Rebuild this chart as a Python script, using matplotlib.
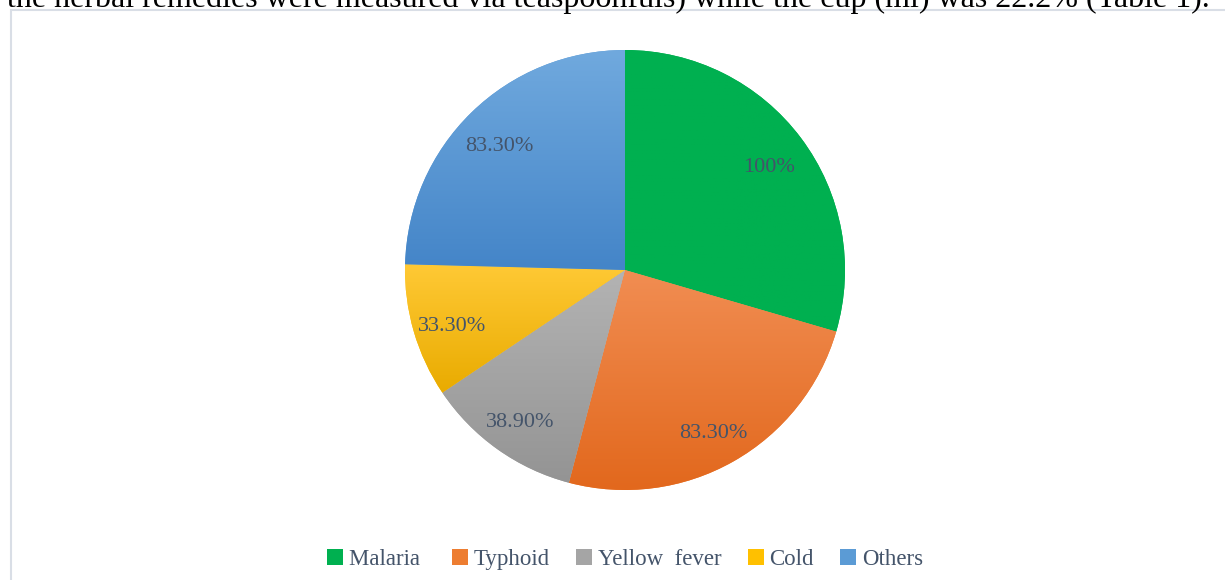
import numpy as np
import matplotlib.pyplot as plt
from matplotlib.patches import Rectangle
from matplotlib.colors import LinearSegmentedColormap
from matplotlib.transforms import ScaledTranslation

# data
categorias = ['Malaria ', 'Typhoid', 'Yellow  fever', 'Cold', 'Others']
valores = [100, 83.3, 38.9, 33.3, 83.3]
etiquetas = ['100%', '83.30%', '38.90%', '33.30%', '83.30%']
colores = ['#00b050', '#ed7d31', '#a5a5a5', '#ffc000', '#5b9bd5']
# degradado (arriba, abajo)
claros = ['#00b050', '#f18d52', '#b3b3b3', '#ffc935', '#70a9de']
oscuros = ['#00b050', '#e2681d', '#949494', '#e9ab00', '#4485c8']

plt.rcParams['font.family'] = ['Liberation Serif', 'DejaVu Serif']

fig = plt.figure(figsize=(12.25, 5.8), dpi=100)

# texto cortado de la página
fig.text(0.006, 0.988, 'the herbal remedies were measured via teaspoonfuls) while the cup (ml) was 22.2% (Table 1).',
         fontsize=23, color='black', va='baseline', ha='left')

# marco del gráfico
fig.patches.append(Rectangle((11 / 1225, -0.1), 1.2, 0.1 + (580 - 10) / 580,
                             transform=fig.transFigure, fill=False,
                             edgecolor='#d9dee6', lw=1.5))

ax = fig.add_axes([(625 - 220) / 1225, (580 - 490) / 580, 440 / 1225, 440 / 580])
cunas, textos = ax.pie(valores, colors=colores, startangle=90, counterclock=False,
                       labels=etiquetas, labeldistance=0.82,
                       wedgeprops=dict(linewidth=0),
                       textprops=dict(color='#44546a', fontsize=16, ha='center', va='center', zorder=5))
# las etiquetas van un poco más abajo en el original
bajar = ScaledTranslation(0, -6 / 100, fig.dpi_scale_trans)
for t in textos:
    t.set_horizontalalignment('center')
    t.set_transform(t.get_transform() + bajar)

# degradado vertical dentro de cada porción
for cuna, c1, c2 in zip(cunas, claros, oscuros):
    ext = cuna.get_path().get_extents(cuna.get_patch_transform())
    cmap = LinearSegmentedColormap.from_list('g', [c1, c2])
    grad = np.linspace(0, 1, 100).reshape(-1, 1)
    im = ax.imshow(grad, cmap=cmap, aspect='auto', origin='upper',
                   extent=[ext.x0, ext.x1, ext.y0, ext.y1], zorder=2)
    im.set_clip_path(cuna)

ax.set_xlim(-1, 1)
ax.set_ylim(-1, 1)
ax.set_aspect('equal')
ax.axis('off')

ax.legend(cunas, categorias, loc='center', bbox_to_anchor=(0.5, -0.157),
          ncol=5, frameon=False, fontsize=16.5, handlelength=0.7, handleheight=0.7,
          handletextpad=0.25, columnspacing=1.15, labelcolor='#44546a')

plt.savefig('out.png', dpi=100)
